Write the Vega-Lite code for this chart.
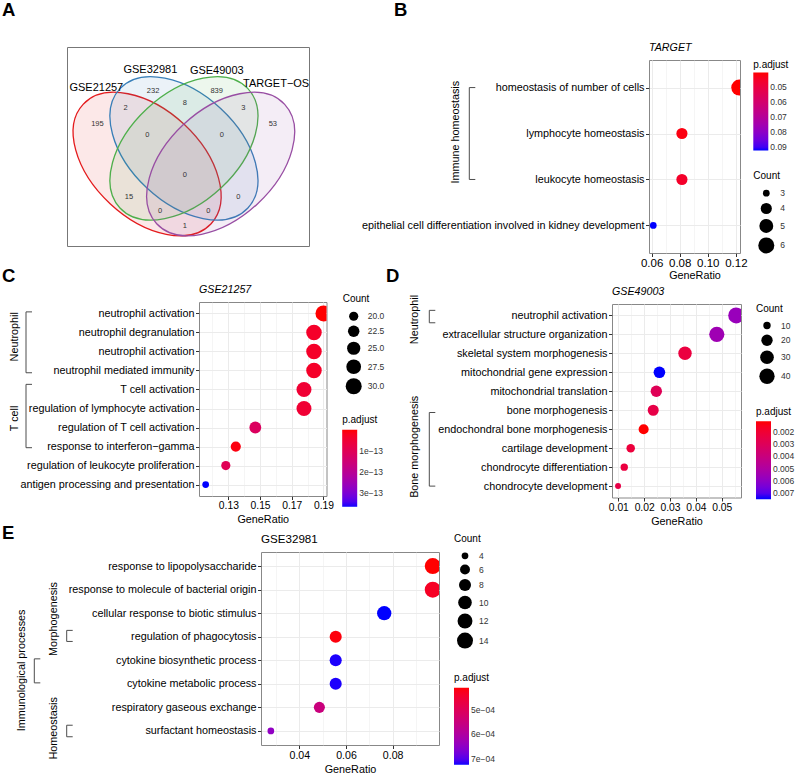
{
  "$schema": "https://vega.github.io/schema/vega-lite/v6.json",
  "padding": 0,
  "bounds": "flush",
  "spacing": 0,
  "resolve": {"scale": {"x": "independent", "y": "independent", "color": "independent", "size": "independent"}, "legend": {"color": "independent", "size": "independent"}},
  "config": {
    "font": "Liberation Sans",
    "view": {"stroke": null},
    "axis": {"domain": false, "tickColor": "#333333", "tickSize": 3.5, "tickWidth": 1, "labelPadding": 1.5, "labelColor": "#000000", "labelFontSize": 10.8, "gridColor": "#EBEBEB", "gridWidth": 1, "titleFontSize": 10.8, "titleFontWeight": "normal", "titleColor": "#000000", "titlePadding": 3, "labelLimit": 600},
    "legend": {"titleFontSize": 10, "titleFontWeight": "normal", "titleColor": "#000000", "labelFontSize": 8.5, "labelColor": "#333333", "labelOverlap": false, "gradientStrokeWidth": 0, "padding": 0, "gradientLength": 77, "gradientThickness": 15, "titlePadding": 4.5, "labelOffset": 5},
    "title": {"anchor": "start", "frame": "group", "baseline": "alphabetic", "fontWeight": "normal", "color": "#000000"}
  },
  "vconcat": [
    {"width": 1, "height": 46, "data": {"values": []}, "mark": "point"},
    {
      "bounds": "flush", "spacing": 0,
      "resolve": {"scale": {"x": "independent", "y": "independent", "color": "independent", "size": "independent"}, "legend": {"color": "independent", "size": "independent"}},
      "hconcat": [
        {"width": 67, "height": 1, "data": {"values": []}, "mark": "point", "title": {"text": "A", "fontSize": 18.5, "fontWeight": "bold", "offset": 27.7, "dx": 2}},
        {
          "width": 242, "height": 199,
          "view": {"stroke": "#777777"},
          "layer": [
            {
              "data": {"values": [
                {"set": "GSE21257", "x": 0.331, "y": 0.412},
                {"set": "GSE32981", "x": 0.4832, "y": 0.4907},
                {"set": "GSE49003", "x": 0.4832, "y": 0.4907},
                {"set": "TARGET-OS", "x": 0.635, "y": 0.412}
              ]},
              "transform": [{"filter": "datum.set == 'GSE21257' || datum.set == 'GSE32981'"}],
              "mark": {"type": "point", "shape": "M1,0C1,0.3424,0.5523,0.62,0,0.62C-0.5523,0.62,-1,0.3424,-1,0C-1,-0.3424,-0.5523,-0.62,0,-0.62C0.5523,-0.62,1,-0.3424,1,0Z", "size": 30625, "angle": 43, "filled": true, "opacity": 1, "fillOpacity": 0.1, "strokeOpacity": 1, "strokeWidth": 1.3},
              "encoding": {
                "x": {"field": "x", "type": "quantitative", "scale": {"domain": [0, 1], "zero": false, "nice": false}, "axis": null},
                "y": {"field": "y", "type": "quantitative", "scale": {"domain": [0, 1], "zero": false, "nice": false}, "axis": null},
                "fill": {"field": "set", "type": "nominal", "scale": {"domain": ["GSE21257", "GSE32981", "GSE49003", "TARGET-OS"], "range": ["#E41A1C", "#377EB8", "#4DAF4A", "#984EA3"]}, "legend": null},
                "stroke": {"field": "set", "type": "nominal", "scale": {"domain": ["GSE21257", "GSE32981", "GSE49003", "TARGET-OS"], "range": ["#E41A1C", "#377EB8", "#4DAF4A", "#984EA3"]}, "legend": null}
              }
            },
            {
              "data": {"values": [
                {"set": "GSE21257", "x": 0.331, "y": 0.412},
                {"set": "GSE32981", "x": 0.4832, "y": 0.4907},
                {"set": "GSE49003", "x": 0.4832, "y": 0.4907},
                {"set": "TARGET-OS", "x": 0.635, "y": 0.412}
              ]},
              "transform": [{"filter": "datum.set == 'GSE49003' || datum.set == 'TARGET-OS'"}],
              "mark": {"type": "point", "shape": "M1,0C1,0.3424,0.5523,0.62,0,0.62C-0.5523,0.62,-1,0.3424,-1,0C-1,-0.3424,-0.5523,-0.62,0,-0.62C0.5523,-0.62,1,-0.3424,1,0Z", "size": 30625, "angle": -43, "filled": true, "opacity": 1, "fillOpacity": 0.1, "strokeOpacity": 1, "strokeWidth": 1.3},
              "encoding": {
                "x": {"field": "x", "type": "quantitative", "scale": {"domain": [0, 1], "zero": false, "nice": false}, "axis": null},
                "y": {"field": "y", "type": "quantitative", "scale": {"domain": [0, 1], "zero": false, "nice": false}, "axis": null},
                "fill": {"field": "set", "type": "nominal", "scale": {"domain": ["GSE21257", "GSE32981", "GSE49003", "TARGET-OS"], "range": ["#E41A1C", "#377EB8", "#4DAF4A", "#984EA3"]}, "legend": null},
                "stroke": {"field": "set", "type": "nominal", "scale": {"domain": ["GSE21257", "GSE32981", "GSE49003", "TARGET-OS"], "range": ["#E41A1C", "#377EB8", "#4DAF4A", "#984EA3"]}, "legend": null}
              }
            },
            {
              "data": {"values": [
                {"n": "232", "x": 0.3556, "y": 0.779},
                {"n": "839", "x": 0.6183, "y": 0.779},
                {"n": "2", "x": 0.2419, "y": 0.691},
                {"n": "8", "x": 0.4867, "y": 0.72},
                {"n": "3", "x": 0.729, "y": 0.691},
                {"n": "195", "x": 0.1257, "y": 0.614},
                {"n": "53", "x": 0.8506, "y": 0.614},
                {"n": "0", "x": 0.332, "y": 0.56},
                {"n": "0", "x": 0.6402, "y": 0.56},
                {"n": "0", "x": 0.4867, "y": 0.3545},
                {"n": "15", "x": 0.256, "y": 0.245},
                {"n": "0", "x": 0.7083, "y": 0.2485},
                {"n": "0", "x": 0.3846, "y": 0.1758},
                {"n": "0", "x": 0.5838, "y": 0.1758},
                {"n": "1", "x": 0.4867, "y": 0.1}
              ]},
              "mark": {"type": "text", "fontSize": 7.5, "color": "#333333"},
              "encoding": {
                "x": {"field": "x", "type": "quantitative", "scale": {"domain": [0, 1], "zero": false, "nice": false}, "axis": null},
                "y": {"field": "y", "type": "quantitative", "scale": {"domain": [0, 1], "zero": false, "nice": false}, "axis": null},
                "text": {"field": "n"}
              }
            },
            {
              "data": {"values": [
                {"name": "GSE21257", "x": 0.1212, "y": 0.795},
                {"name": "GSE32981", "x": 0.3444, "y": 0.885},
                {"name": "GSE49003", "x": 0.619, "y": 0.878},
                {"name": "TARGET\u2212OS", "x": 0.8643, "y": 0.812}
              ]},
              "mark": {"type": "text", "fontSize": 11, "color": "#000000"},
              "encoding": {
                "x": {"field": "x", "type": "quantitative", "scale": {"domain": [0, 1], "zero": false, "nice": false}, "axis": null},
                "y": {"field": "y", "type": "quantitative", "scale": {"domain": [0, 1], "zero": false, "nice": false}, "axis": null},
                "text": {"field": "name"}
              }
            }
          ]
        },
        {"width": 340, "height": 1, "data": {"values": []}, "mark": "point", "title": {"text": "B", "fontSize": 18.5, "fontWeight": "bold", "offset": 27.7, "dx": 85}},
        {
          "bounds": "flush", "spacing": 0,
          "resolve": {"scale": {"x": "independent", "y": "independent", "color": "independent", "size": "independent"}, "legend": {"color": "independent", "size": "independent"}},
          "vconcat": [
            {"width": 1, "height": 12, "data": {"values": []}, "mark": "point"},
            {"width": 1, "height": 1, "data": {"values": []}, "mark": "point", "title": {"text": "TARGET", "fontSize": 10.7, "fontStyle": "italic", "offset": 5.5}},
            {
              "width": 91, "height": 193,
              "view": {"stroke": "#888888"},
              "resolve": {"scale": {"x": "independent", "y": "independent"}},
              "layer": [
                {
                  "data": {"values": [
                    {"Description": "homeostasis of number of cells", "GeneRatio": 0.1224, "Count": 6, "padj": 0.0405},
                    {"Description": "lymphocyte homeostasis", "GeneRatio": 0.0816, "Count": 4, "padj": 0.042},
                    {"Description": "leukocyte homeostasis", "GeneRatio": 0.0816, "Count": 4, "padj": 0.0457},
                    {"Description": "epithelial cell differentiation involved in kidney development", "GeneRatio": 0.0612, "Count": 3, "padj": 0.0922}
                  ]},
                  "mark": {"type": "point", "filled": true, "opacity": 1, "clip": true},
                  "encoding": {
                    "x": {"field": "GeneRatio", "type": "quantitative", "scale": {"domain": [0.05816, 0.12293], "zero": false, "nice": false},
                      "axis": {"title": "GeneRatio", "values": [0.06, 0.07, 0.08, 0.09, 0.1, 0.11, 0.12], "labelFontSize": 11.5, "labelPadding": 0.5, "titlePadding": 1,
                        "labelExpr": "round(datum.value*100)%2==0 ? format(datum.value,'.2f') : ''",
                        "tickOpacity": {"condition": {"test": "round(datum.value*100)%2==0", "value": 1}, "value": 0},
                        "gridWidth": {"condition": {"test": "round(datum.value*100)%2==0", "value": 1}, "value": 0.5}}},
                    "y": {"field": "Description", "type": "nominal", "scale": {"type": "point", "padding": 0.6, "domain": ["homeostasis of number of cells", "lymphocyte homeostasis", "leukocyte homeostasis", "epithelial cell differentiation involved in kidney development"]}, "axis": {"title": null, "grid": true}},
                    "size": {"field": "Count", "type": "quantitative", "scale": {"type": "sqrt", "domain": [3, 6], "range": [45, 256], "zero": false},
                      "legend": {"title": "Count", "orient": "none", "legendX": 104.3, "legendY": 111.2, "values": [3, 4, 5, 6], "format": "d", "titlePadding": 7.75, "rowPadding": 4.5, "symbolOffset": 5, "labelOffset": 6, "symbolFillColor": "#000000", "symbolStrokeWidth": 0, "symbolType": "circle", "symbolOpacity": 1}},
                    "color": {"field": "padj", "type": "quantitative", "scale": {"domain": [0.0922, 0.0405], "range": ["#0000FF", "#FF0000"], "interpolate": "lab"},
                      "legend": {"title": "p.adjust", "orient": "none", "legendX": 104.3, "legendY": -0.5, "direction": "vertical", "gradientLength": 78, "values": [0.05, 0.06, 0.07, 0.08, 0.09], "labelExpr": "format(datum.value,'.2f')", "titlePadding": 3}}
                  }
                },
                {
                  "data": {"values": [{"label": "Immune homeostasis", "level": 1, "y1": 1, "y2": 3, "ym": 1.97}]},
                  "layer": [
                    {"mark": {"type": "rule", "color": "#4d4d4d", "strokeWidth": 1},
                     "encoding": {
                       "x": {"field": "level", "type": "quantitative", "scale": {"domain": [1, 2], "range": [-179.7, -212.7], "zero": false, "nice": false}, "axis": null},
                       "y": {"field": "y1", "type": "quantitative", "scale": {"domain": [0.4, 4.6], "reverse": true, "zero": false, "nice": false}, "axis": null},
                       "y2": {"field": "y2"}}},
                    {"mark": {"type": "rule", "color": "#4d4d4d", "strokeWidth": 1, "x2Offset": 6},
                     "encoding": {
                       "x": {"field": "level", "type": "quantitative", "scale": {"domain": [1, 2], "range": [-179.7, -212.7], "zero": false, "nice": false}, "axis": null},
                       "x2": {"field": "level"},
                       "y": {"field": "y1", "type": "quantitative", "scale": {"domain": [0.4, 4.6], "reverse": true, "zero": false, "nice": false}, "axis": null}}},
                    {"mark": {"type": "rule", "color": "#4d4d4d", "strokeWidth": 1, "x2Offset": 6},
                     "encoding": {
                       "x": {"field": "level", "type": "quantitative", "scale": {"domain": [1, 2], "range": [-179.7, -212.7], "zero": false, "nice": false}, "axis": null},
                       "x2": {"field": "level"},
                       "y": {"field": "y2", "type": "quantitative", "scale": {"domain": [0.4, 4.6], "reverse": true, "zero": false, "nice": false}, "axis": null}}},
                    {"mark": {"type": "text", "angle": 270, "xOffset": -13.6, "fontSize": 10.8, "color": "#000000", "align": "center", "baseline": "middle"},
                     "encoding": {
                       "x": {"field": "level", "type": "quantitative", "scale": {"domain": [1, 2], "range": [-179.7, -212.7], "zero": false, "nice": false}, "axis": null},
                       "y": {"field": "ym", "type": "quantitative", "scale": {"domain": [0.4, 4.6], "reverse": true, "zero": false, "nice": false}, "axis": null},
                       "text": {"field": "label"}}}
                  ]
                }
              ]
            }
          ]
        }
      ]
    },
    {"width": 1, "height": 254, "data": {"values": []}, "mark": "point"},
    {
      "bounds": "flush", "spacing": 0,
      "resolve": {"scale": {"x": "independent", "y": "independent", "color": "independent", "size": "independent"}, "legend": {"color": "independent", "size": "independent"}},
      "hconcat": [
        {"width": 199, "height": 1, "data": {"values": []}, "mark": "point", "title": {"text": "C", "fontSize": 18.5, "fontWeight": "bold", "offset": 16, "dx": 2}},
        {
          "bounds": "flush", "spacing": 0,
          "resolve": {"scale": {"x": "independent", "y": "independent", "color": "independent", "size": "independent"}, "legend": {"color": "independent", "size": "independent"}},
          "vconcat": [
            {"width": 1, "height": 1, "data": {"values": []}, "mark": "point", "title": {"text": "GSE21257", "fontSize": 10.7, "fontStyle": "italic", "offset": 5.5}},
            {
              "width": 127.5, "height": 194,
              "view": {"stroke": "#888888"},
              "resolve": {"scale": {"x": "independent", "y": "independent"}},
              "layer": [
                {
                  "data": {"values": [
                    {"Description": "neutrophil activation", "GeneRatio": 0.19, "Count": 30, "padj": 1e-16},
                    {"Description": "neutrophil degranulation", "GeneRatio": 0.184, "Count": 29, "padj": 3.5e-14},
                    {"Description": "neutrophil activation #2", "GeneRatio": 0.184, "Count": 29, "padj": 3.5e-14},
                    {"Description": "neutrophil mediated immunity", "GeneRatio": 0.184, "Count": 29, "padj": 3.5e-14},
                    {"Description": "T cell activation", "GeneRatio": 0.1777, "Count": 28, "padj": 5e-14},
                    {"Description": "regulation of lymphocyte activation", "GeneRatio": 0.1777, "Count": 28, "padj": 5e-14},
                    {"Description": "regulation of T cell activation", "GeneRatio": 0.147, "Count": 23, "padj": 1.15e-13},
                    {"Description": "response to interferon\u2212gamma", "GeneRatio": 0.1347, "Count": 21, "padj": 1e-14},
                    {"Description": "regulation of leukocyte proliferation", "GeneRatio": 0.1284, "Count": 20, "padj": 1e-13},
                    {"Description": "antigen processing and presentation", "GeneRatio": 0.1157, "Count": 18, "padj": 3.64e-13}
                  ]},
                  "mark": {"type": "point", "filled": true, "opacity": 1, "clip": true},
                  "encoding": {
                    "x": {"field": "GeneRatio", "type": "quantitative", "scale": {"domain": [0.1115, 0.1919], "zero": false, "nice": false},
                      "axis": {"title": "GeneRatio", "values": [0.12, 0.13, 0.14, 0.15, 0.16, 0.17, 0.18, 0.19], "labelFontSize": 10.3, "labelPadding": 1,
                        "labelExpr": "round(datum.value*100)%2==1 ? format(datum.value,'.2f') : ''",
                        "tickOpacity": {"condition": {"test": "round(datum.value*100)%2==1", "value": 1}, "value": 0},
                        "gridWidth": {"condition": {"test": "round(datum.value*100)%2==1", "value": 1}, "value": 0.5}}},
                    "y": {"field": "Description", "type": "nominal", "scale": {"type": "point", "padding": 0.6, "domain": ["neutrophil activation", "neutrophil degranulation", "neutrophil activation #2", "neutrophil mediated immunity", "T cell activation", "regulation of lymphocyte activation", "regulation of T cell activation", "response to interferon\u2212gamma", "regulation of leukocyte proliferation", "antigen processing and presentation"]}, "axis": {"title": null, "grid": true, "labelExpr": "replace(datum.label, ' #2', '')"}},
                    "size": {"field": "Count", "type": "quantitative", "scale": {"type": "sqrt", "domain": [18, 30], "range": [45, 256], "zero": false},
                      "legend": {"title": "Count", "orient": "none", "legendX": 143.7, "legendY": -8.5, "values": [20, 22.5, 25, 27.5, 30], "format": ".1f", "titlePadding": 7.75, "rowPadding": 4, "symbolOffset": 3, "labelOffset": 6, "symbolFillColor": "#000000", "symbolStrokeWidth": 0, "symbolType": "circle", "symbolOpacity": 1}},
                    "color": {"field": "padj", "type": "quantitative", "scale": {"domain": [3.64e-13, 1e-16], "range": ["#0000FF", "#FF0000"], "interpolate": "lab"},
                      "legend": {"title": "p.adjust", "orient": "none", "legendX": 143.2, "legendY": 113.2, "direction": "vertical", "values": [1e-13, 2e-13, 3e-13], "labelExpr": "format(round(datum.value*1e13),'d') + 'e\u221213'"}}
                  }
                },
                {
                  "data": {"values": [
                    {"label": "Neutrophil", "level": 1, "y1": 0.92, "y2": 4.12, "ym": 2.23},
                    {"label": "T cell", "level": 1, "y1": 4.73, "y2": 8.06, "ym": 6.52}
                  ]},
                  "layer": [
                    {"mark": {"type": "rule", "color": "#4d4d4d", "strokeWidth": 1},
                     "encoding": {
                       "x": {"field": "level", "type": "quantitative", "scale": {"domain": [1, 2], "range": [-173, -206], "zero": false, "nice": false}, "axis": null},
                       "y": {"field": "y1", "type": "quantitative", "scale": {"domain": [0.4, 10.6], "reverse": true, "zero": false, "nice": false}, "axis": null},
                       "y2": {"field": "y2"}}},
                    {"mark": {"type": "rule", "color": "#4d4d4d", "strokeWidth": 1, "x2Offset": 6},
                     "encoding": {
                       "x": {"field": "level", "type": "quantitative", "scale": {"domain": [1, 2], "range": [-173, -206], "zero": false, "nice": false}, "axis": null},
                       "x2": {"field": "level"},
                       "y": {"field": "y1", "type": "quantitative", "scale": {"domain": [0.4, 10.6], "reverse": true, "zero": false, "nice": false}, "axis": null}}},
                    {"mark": {"type": "rule", "color": "#4d4d4d", "strokeWidth": 1, "x2Offset": 6},
                     "encoding": {
                       "x": {"field": "level", "type": "quantitative", "scale": {"domain": [1, 2], "range": [-173, -206], "zero": false, "nice": false}, "axis": null},
                       "x2": {"field": "level"},
                       "y": {"field": "y2", "type": "quantitative", "scale": {"domain": [0.4, 10.6], "reverse": true, "zero": false, "nice": false}, "axis": null}}},
                    {"mark": {"type": "text", "angle": 270, "xOffset": -11, "fontSize": 10.8, "color": "#000000", "align": "center", "baseline": "middle"},
                     "encoding": {
                       "x": {"field": "level", "type": "quantitative", "scale": {"domain": [1, 2], "range": [-173, -206], "zero": false, "nice": false}, "axis": null},
                       "y": {"field": "ym", "type": "quantitative", "scale": {"domain": [0.4, 10.6], "reverse": true, "zero": false, "nice": false}, "axis": null},
                       "text": {"field": "label"}}}
                  ]
                }
              ]
            }
          ]
        },
        {"width": 413, "height": 1, "data": {"values": []}, "mark": "point", "title": {"text": "D", "fontSize": 18.5, "fontWeight": "bold", "offset": 16, "dx": 187}},
        {
          "bounds": "flush", "spacing": 0,
          "resolve": {"scale": {"x": "independent", "y": "independent", "color": "independent", "size": "independent"}, "legend": {"color": "independent", "size": "independent"}},
          "vconcat": [
            {"width": 1, "height": 2, "data": {"values": []}, "mark": "point"},
            {"width": 1, "height": 1, "data": {"values": []}, "mark": "point", "title": {"text": "GSE49003", "fontSize": 10.7, "fontStyle": "italic", "offset": 5.5}},
            {
              "width": 129, "height": 193.5,
              "view": {"stroke": "#888888"},
              "resolve": {"scale": {"x": "independent", "y": "independent"}},
              "layer": [
                {
                  "data": {"values": [
                    {"Description": "neutrophil activation", "GeneRatio": 0.0556, "Count": 45, "padj": 0.0057},
                    {"Description": "extracellular structure organization", "GeneRatio": 0.0481, "Count": 39, "padj": 0.0055},
                    {"Description": "skeletal system morphogenesis", "GeneRatio": 0.0358, "Count": 29, "padj": 0.0023},
                    {"Description": "mitochondrial gene expression", "GeneRatio": 0.0259, "Count": 21, "padj": 0.0075},
                    {"Description": "mitochondrial translation", "GeneRatio": 0.0247, "Count": 20, "padj": 0.0029},
                    {"Description": "bone morphogenesis", "GeneRatio": 0.0235, "Count": 19, "padj": 0.0025},
                    {"Description": "endochondral bone morphogenesis", "GeneRatio": 0.0198, "Count": 16, "padj": 0.00113},
                    {"Description": "cartilage development", "GeneRatio": 0.0148, "Count": 12, "padj": 0.0022},
                    {"Description": "chondrocyte differentiation", "GeneRatio": 0.0123, "Count": 10, "padj": 0.0023},
                    {"Description": "chondrocyte development", "GeneRatio": 0.0099, "Count": 8, "padj": 0.0025}
                  ]},
                  "mark": {"type": "point", "filled": true, "opacity": 1, "clip": true},
                  "encoding": {
                    "x": {"field": "GeneRatio", "type": "quantitative", "scale": {"domain": [0.00756, 0.05746], "zero": false, "nice": false},
                      "axis": {"title": "GeneRatio", "values": [0.01, 0.015, 0.02, 0.025, 0.03, 0.035, 0.04, 0.045, 0.05, 0.055], "labelFontSize": 10.3,
                        "labelExpr": "round(datum.value*1000)%10==0 ? format(datum.value,'.2f') : ''",
                        "tickOpacity": {"condition": {"test": "round(datum.value*1000)%10==0", "value": 1}, "value": 0},
                        "gridWidth": {"condition": {"test": "round(datum.value*1000)%10==0", "value": 1}, "value": 0.5}}},
                    "y": {"field": "Description", "type": "nominal", "scale": {"type": "point", "padding": 0.6, "domain": ["neutrophil activation", "extracellular structure organization", "skeletal system morphogenesis", "mitochondrial gene expression", "mitochondrial translation", "bone morphogenesis", "endochondral bone morphogenesis", "cartilage development", "chondrocyte differentiation", "chondrocyte development"]}, "axis": {"title": null, "grid": true}},
                    "size": {"field": "Count", "type": "quantitative", "scale": {"type": "sqrt", "domain": [8, 45], "range": [36, 256], "zero": false},
                      "legend": {"title": "Count", "orient": "none", "legendX": 144, "legendY": -0.5, "values": [10, 20, 30, 40], "format": "d", "titlePadding": 7.75, "rowPadding": 4, "symbolOffset": 3, "labelOffset": 6, "symbolFillColor": "#000000", "symbolStrokeWidth": 0, "symbolType": "circle", "symbolOpacity": 1}},
                    "color": {"field": "padj", "type": "quantitative", "scale": {"domain": [0.0075, 0.00113], "range": ["#0000FF", "#FF0000"], "interpolate": "lab"},
                      "legend": {"title": "p.adjust", "orient": "none", "legendX": 144, "legendY": 102.8, "direction": "vertical", "gradientLength": 78, "values": [0.002, 0.003, 0.004, 0.005, 0.006, 0.007], "labelExpr": "format(datum.value,'.3f')"}}
                  }
                },
                {
                  "data": {"values": [
                    {"label": "Neutrophil", "level": 1, "y1": 0.735, "y2": 1.39, "ym": 1.22},
                    {"label": "Bone morphogenesis", "level": 1, "y1": 6.12, "y2": 10.0, "ym": 7.93}
                  ]},
                  "layer": [
                    {"mark": {"type": "rule", "color": "#4d4d4d", "strokeWidth": 1},
                     "encoding": {
                       "x": {"field": "level", "type": "quantitative", "scale": {"domain": [1, 2], "range": [-182.7, -215.7], "zero": false, "nice": false}, "axis": null},
                       "y": {"field": "y1", "type": "quantitative", "scale": {"domain": [0.4, 10.6], "reverse": true, "zero": false, "nice": false}, "axis": null},
                       "y2": {"field": "y2"}}},
                    {"mark": {"type": "rule", "color": "#4d4d4d", "strokeWidth": 1, "x2Offset": 6},
                     "encoding": {
                       "x": {"field": "level", "type": "quantitative", "scale": {"domain": [1, 2], "range": [-182.7, -215.7], "zero": false, "nice": false}, "axis": null},
                       "x2": {"field": "level"},
                       "y": {"field": "y1", "type": "quantitative", "scale": {"domain": [0.4, 10.6], "reverse": true, "zero": false, "nice": false}, "axis": null}}},
                    {"mark": {"type": "rule", "color": "#4d4d4d", "strokeWidth": 1, "x2Offset": 6},
                     "encoding": {
                       "x": {"field": "level", "type": "quantitative", "scale": {"domain": [1, 2], "range": [-182.7, -215.7], "zero": false, "nice": false}, "axis": null},
                       "x2": {"field": "level"},
                       "y": {"field": "y2", "type": "quantitative", "scale": {"domain": [0.4, 10.6], "reverse": true, "zero": false, "nice": false}, "axis": null}}},
                    {"mark": {"type": "text", "angle": 270, "xOffset": -14.3, "fontSize": 10.8, "color": "#000000", "align": "center", "baseline": "middle"},
                     "encoding": {
                       "x": {"field": "level", "type": "quantitative", "scale": {"domain": [1, 2], "range": [-182.7, -215.7], "zero": false, "nice": false}, "axis": null},
                       "y": {"field": "ym", "type": "quantitative", "scale": {"domain": [0.4, 10.6], "reverse": true, "zero": false, "nice": false}, "axis": null},
                       "text": {"field": "label"}}}
                  ]
                }
              ]
            }
          ]
        }
      ]
    },
    {"width": 1, "height": 250, "data": {"values": []}, "mark": "point"},
    {
      "bounds": "flush", "spacing": 0,
      "resolve": {"scale": {"x": "independent", "y": "independent", "color": "independent", "size": "independent"}, "legend": {"color": "independent", "size": "independent"}},
      "hconcat": [
        {"width": 261, "height": 1, "data": {"values": []}, "mark": "point", "title": {"text": "E", "fontSize": 18.5, "fontWeight": "bold", "offset": 8.3, "dx": 2}},
        {
          "bounds": "flush", "spacing": 0,
          "resolve": {"scale": {"x": "independent", "y": "independent", "color": "independent", "size": "independent"}, "legend": {"color": "independent", "size": "independent"}},
          "vconcat": [
            {"width": 1, "height": 1, "data": {"values": []}, "mark": "point", "title": {"text": "GSE32981", "fontSize": 11.6, "offset": 5.1}},
            {
              "width": 178, "height": 193,
              "view": {"stroke": "#888888"},
              "resolve": {"scale": {"x": "independent", "y": "independent"}},
              "layer": [
                {
                  "data": {"values": [
                    {"Description": "response to lipopolysaccharide", "GeneRatio": 0.0972, "Count": 14, "padj": 0.00041},
                    {"Description": "response to molecule of bacterial origin", "GeneRatio": 0.0972, "Count": 14, "padj": 0.000435},
                    {"Description": "cellular response to biotic stimulus", "GeneRatio": 0.0764, "Count": 11, "padj": 0.000723},
                    {"Description": "regulation of phagocytosis", "GeneRatio": 0.0556, "Count": 8, "padj": 0.000416},
                    {"Description": "cytokine biosynthetic process", "GeneRatio": 0.0556, "Count": 8, "padj": 0.00072},
                    {"Description": "cytokine metabolic process", "GeneRatio": 0.0556, "Count": 8, "padj": 0.00072},
                    {"Description": "respiratory gaseous exchange", "GeneRatio": 0.0486, "Count": 7, "padj": 0.00055},
                    {"Description": "surfactant homeostasis", "GeneRatio": 0.0278, "Count": 4, "padj": 0.000645}
                  ]},
                  "mark": {"type": "point", "filled": true, "opacity": 1, "clip": true},
                  "encoding": {
                    "x": {"field": "GeneRatio", "type": "quantitative", "scale": {"domain": [0.02358, 0.09988], "zero": false, "nice": false},
                      "axis": {"title": "GeneRatio", "values": [0.03, 0.04, 0.05, 0.06, 0.07, 0.08, 0.09], "labelFontSize": 10.6,
                        "labelExpr": "round(datum.value*100)%2==0 ? format(datum.value,'.2f') : ''",
                        "tickOpacity": {"condition": {"test": "round(datum.value*100)%2==0", "value": 1}, "value": 0},
                        "gridWidth": {"condition": {"test": "round(datum.value*100)%2==0", "value": 1}, "value": 0.5}}},
                    "y": {"field": "Description", "type": "nominal", "scale": {"type": "point", "padding": 0.6, "domain": ["response to lipopolysaccharide", "response to molecule of bacterial origin", "cellular response to biotic stimulus", "regulation of phagocytosis", "cytokine biosynthetic process", "cytokine metabolic process", "respiratory gaseous exchange", "surfactant homeostasis"]}, "axis": {"title": null, "grid": true}},
                    "size": {"field": "Count", "type": "quantitative", "scale": {"type": "sqrt", "domain": [4, 14], "range": [45, 256], "zero": false},
                      "legend": {"title": "Count", "orient": "none", "legendX": 193, "legendY": -18.2, "values": [4, 6, 8, 10, 12, 14], "format": "d", "titlePadding": 7.75, "rowPadding": 4, "symbolOffset": 3, "labelOffset": 6, "symbolFillColor": "#000000", "symbolStrokeWidth": 0, "symbolType": "circle", "symbolOpacity": 1}},
                    "color": {"field": "padj", "type": "quantitative", "scale": {"domain": [0.000723, 0.00041], "range": ["#0000FF", "#FF0000"], "interpolate": "lab"},
                      "legend": {"title": "p.adjust", "orient": "none", "legendX": 193, "legendY": 121.2, "direction": "vertical", "values": [0.0005, 0.0006, 0.0007], "labelExpr": "format(round(datum.value*1e4),'d') + 'e\u221204'"}}
                  }
                },
                {
                  "data": {"values": [
                    {"label": "Morphogenesis", "level": 1, "y1": 3.73, "y2": 4.2, "ym": 3.25},
                    {"label": "Homeostasis", "level": 1, "y1": 7.76, "y2": 8.25, "ym": 7.89},
                    {"label": "Immunological processes", "level": 2, "y1": 4.94, "y2": 5.96, "ym": 5.43}
                  ]},
                  "layer": [
                    {"mark": {"type": "rule", "color": "#4d4d4d", "strokeWidth": 1},
                     "encoding": {
                       "x": {"field": "level", "type": "quantitative", "scale": {"domain": [1, 2], "range": [-194.3, -226.7], "zero": false, "nice": false}, "axis": null},
                       "y": {"field": "y1", "type": "quantitative", "scale": {"domain": [0.4, 8.6], "reverse": true, "zero": false, "nice": false}, "axis": null},
                       "y2": {"field": "y2"}}},
                    {"mark": {"type": "rule", "color": "#4d4d4d", "strokeWidth": 1, "x2Offset": 6},
                     "encoding": {
                       "x": {"field": "level", "type": "quantitative", "scale": {"domain": [1, 2], "range": [-194.3, -226.7], "zero": false, "nice": false}, "axis": null},
                       "x2": {"field": "level"},
                       "y": {"field": "y1", "type": "quantitative", "scale": {"domain": [0.4, 8.6], "reverse": true, "zero": false, "nice": false}, "axis": null}}},
                    {"mark": {"type": "rule", "color": "#4d4d4d", "strokeWidth": 1, "x2Offset": 6},
                     "encoding": {
                       "x": {"field": "level", "type": "quantitative", "scale": {"domain": [1, 2], "range": [-194.3, -226.7], "zero": false, "nice": false}, "axis": null},
                       "x2": {"field": "level"},
                       "y": {"field": "y2", "type": "quantitative", "scale": {"domain": [0.4, 8.6], "reverse": true, "zero": false, "nice": false}, "axis": null}}},
                    {"mark": {"type": "text", "angle": 270, "xOffset": -12.5, "fontSize": 10.8, "color": "#000000", "align": "center", "baseline": "middle"},
                     "encoding": {
                       "x": {"field": "level", "type": "quantitative", "scale": {"domain": [1, 2], "range": [-194.3, -226.7], "zero": false, "nice": false}, "axis": null},
                       "y": {"field": "ym", "type": "quantitative", "scale": {"domain": [0.4, 8.6], "reverse": true, "zero": false, "nice": false}, "axis": null},
                       "text": {"field": "label"}}}
                  ]
                }
              ]
            }
          ]
        }
      ]
    }
  ]
}
